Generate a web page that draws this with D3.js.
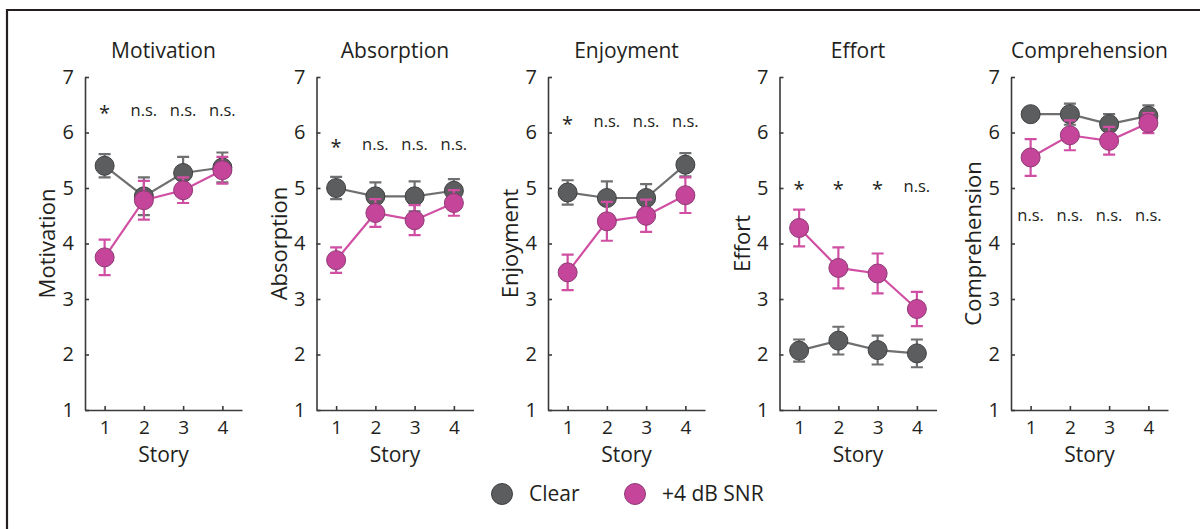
<!DOCTYPE html>
<html>
<head>
    <title>Story ratings</title>
    <style>
        body { margin: 0; background: #fff; }
        text { font-family: "Open Sans", "Noto Sans", sans-serif; fill: #231f20; }
        .axis path, .axis line { stroke: #3a3a3a; stroke-width: 1.6; }
    </style>
</head>
<body>
    <div id="chart"></div>

    <script src="https://cdn.jsdelivr.net/npm/d3@7"></script>
    <script>
        const width = 1200;
        const height = 529;

        // data
        const stories = [1, 2, 3, 4];
        const measures = ["Motivation", "Absorption", "Enjoyment", "Effort", "Comprehension"];

        const clearMean = [
            [5.40, 4.85, 5.27, 5.37],
            [5.00, 4.85, 4.85, 4.95],
            [4.92, 4.82, 4.82, 5.42],
            [2.07, 2.25, 2.08, 2.02],
            [6.33, 6.33, 6.15, 6.30]
        ];
        const clearErr = [
            [0.21, 0.34, 0.29, 0.27],
            [0.20, 0.25, 0.27, 0.21],
            [0.22, 0.30, 0.25, 0.21],
            [0.20, 0.25, 0.26, 0.25],
            [0.12, 0.19, 0.18, 0.19]
        ];
        const snrMean = [
            [3.75, 4.78, 4.96, 5.32],
            [3.70, 4.55, 4.42, 4.73],
            [3.48, 4.40, 4.50, 4.87],
            [4.28, 3.56, 3.46, 2.82],
            [5.55, 5.95, 5.85, 6.17]
        ];
        const snrErr = [
            [0.32, 0.35, 0.23, 0.24],
            [0.23, 0.25, 0.27, 0.23],
            [0.32, 0.35, 0.29, 0.32],
            [0.33, 0.37, 0.36, 0.31],
            [0.33, 0.27, 0.25, 0.18]
        ];
        const sigLabels = [
            ["*", "n.s.", "n.s.", "n.s."],
            ["*", "n.s.", "n.s.", "n.s."],
            ["*", "n.s.", "n.s.", "n.s."],
            ["*", "*", "*", "n.s."],
            ["n.s.", "n.s.", "n.s.", "n.s."]
        ];
        const sigLevel = [6.4, 5.8, 6.2, 5.03, 4.52];
        const yTicks = [1, 2, 3, 4, 5, 6, 7];

        const conditions = [
            { name: "Clear", fill: "#5c5d5f", stroke: "#3f4042", line: "#6e6f71", mean: clearMean, err: clearErr },
            { name: "+4 dB SNR", fill: "#c5459b", stroke: "#8e3a74", line: "#d04fa3", mean: snrMean, err: snrErr }
        ];

        const svg = d3.select("#chart")
            .append("svg")
            .attr("width", width)
            .attr("height", height);

        // frame (top and left edges only)
        svg.append("path")
            .attr("d", "M7,529 V10 H1200")
            .attr("fill", "none")
            .attr("stroke", "#231f20")
            .attr("stroke-width", 2.2);

        const panelW = 157;
        const panelStep = 231.5;
        const left0 = 85;

        const y = d3.scaleLinear().domain([1, 7]).range([410, 77]);

        measures.forEach((m, i) => {
            const x0 = left0 + i * panelStep;
            const x = d3.scaleLinear().domain([0.5, 4.5]).range([x0, x0 + panelW]);
            const g = svg.append("g");

            // axes
            g.append("g")
                .attr("class", "axis")
                .attr("transform", `translate(${x0},0)`)
                .call(d3.axisLeft(y).tickValues(yTicks).tickFormat(d3.format("d"))
                    .tickSize(-4).tickPadding(11).tickSizeOuter(0))
                .call(a => a.selectAll("text").attr("font-size", 20).attr("fill", "#231f20"));

            g.append("g")
                .attr("class", "axis")
                .attr("transform", `translate(0,${y(1)})`)
                .call(d3.axisBottom(x).tickValues(stories).tickFormat(d3.format("d"))
                    .tickSize(-4).tickPadding(11).tickSizeOuter(0))
                .call(a => a.selectAll("text").attr("font-size", 19).attr("fill", "#231f20"));

            // titles
            g.append("text")
                .attr("x", x0 + panelW / 2)
                .attr("y", 58)
                .attr("text-anchor", "middle")
                .attr("font-size", 21)
                .text(m);

            g.append("text")
                .attr("transform", `translate(${x0 - 30},${(y(1) + y(7)) / 2}) rotate(-90)`)
                .attr("text-anchor", "middle")
                .attr("font-size", 22)
                .text(m);

            g.append("text")
                .attr("x", x0 + panelW / 2)
                .attr("y", 462)
                .attr("text-anchor", "middle")
                .attr("font-size", 21)
                .text("Story");

            // significance labels
            g.selectAll(".sig")
                .data(sigLabels[i])
                .join("text")
                .attr("x", (d, j) => x(stories[j]))
                .attr("y", y(sigLevel[i]) + 6)
                .attr("text-anchor", "middle")
                .attr("font-size", d => d === "*" ? 20 : 16.5)
                .attr("dy", d => d === "*" ? 4 : 0)
                .text(d => d);

            // series
            conditions.forEach(c => {
                const pts = stories.map((s, j) => ({ s, v: c.mean[i][j], e: c.err[i][j] }));

                g.append("path")
                    .datum(pts)
                    .attr("fill", "none")
                    .attr("stroke", c.line)
                    .attr("stroke-width", 2.2)
                    .attr("d", d3.line().x(d => x(d.s)).y(d => y(d.v)));

                const eb = g.append("g")
                    .attr("stroke", c.line)
                    .attr("stroke-width", 2.2)
                    .attr("fill", "none");
                eb.selectAll("path")
                    .data(pts)
                    .join("path")
                    .attr("d", d => {
                        const cx = x(d.s), t = y(d.v + d.e), b = y(d.v - d.e);
                        return `M${cx - 6},${t}H${cx + 6}M${cx},${t}V${b}M${cx - 6},${b}H${cx + 6}`;
                    });

                g.selectAll(null)
                    .data(pts)
                    .join("circle")
                    .attr("cx", d => x(d.s))
                    .attr("cy", d => y(d.v))
                    .attr("r", 9.5)
                    .attr("fill", c.fill)
                    .attr("stroke", c.stroke)
                    .attr("stroke-width", 1);
            });
        });

        // legend
        const legend = svg.append("g");
        const legendX = [502, 635];
        conditions.forEach((c, k) => {
            legend.append("circle")
                .attr("cx", legendX[k])
                .attr("cy", 494)
                .attr("r", 10.5)
                .attr("fill", c.fill)
                .attr("stroke", c.stroke)
                .attr("stroke-width", 1);
            legend.append("text")
                .attr("x", legendX[k] + 27)
                .attr("y", 501)
                .attr("font-size", 21)
                .text(c.name);
        });
    </script>
</body>
</html>
